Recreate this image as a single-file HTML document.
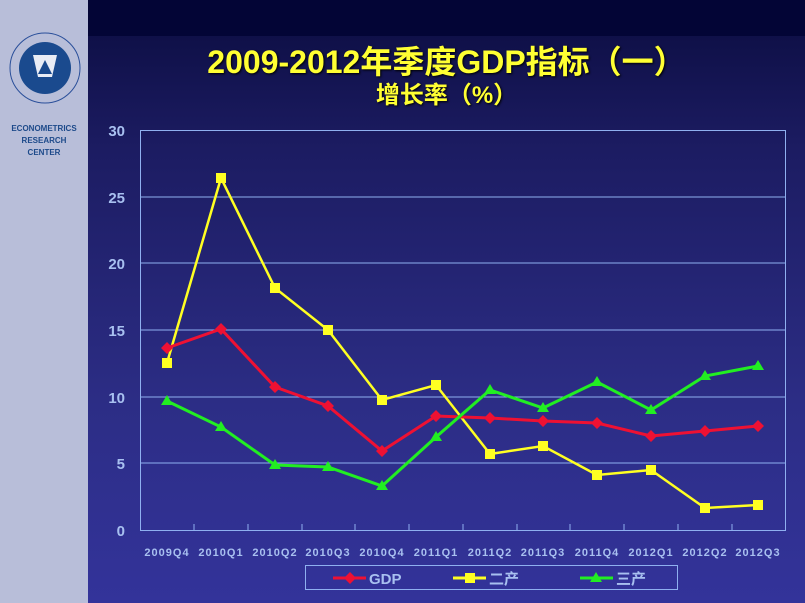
<!DOCTYPE html>
<html><head><meta charset="utf-8"><style>
html,body{margin:0;padding:0;width:805px;height:603px;overflow:hidden}
body{position:relative;background:linear-gradient(#0f1048 35px,#1c1c62 150px,#2c2d85 400px,#33339a 603px);font-family:"Liberation Sans","Noto Sans CJK SC",sans-serif}
#top{position:absolute;left:88px;top:0;width:717px;height:36px;background:#030536}
#side{position:absolute;left:0;top:0;width:88px;height:603px;background:#b8bed9}
.t{position:absolute;text-align:center;color:#ffff33;font-weight:bold;text-shadow:1px 1px 2px #000}
</style></head><body>
<div id="top"></div>
<div id="side">
<svg width="88" height="110" style="position:absolute;left:0;top:30px">
<circle cx="45" cy="38" r="35" fill="none" stroke="#2a4f9a" stroke-width="1"/>
<circle cx="45" cy="38" r="26" fill="#1a4a8e"/>
<path d="M33 25 h24 l-5 22 h-14z" fill="#e8ecf5"/>
<path d="M45 30 l-7 14 h14z" fill="#1a4a8e"/>
</svg>
<div style="position:absolute;left:0;width:88px;top:123px;text-align:center;font-size:8px;font-weight:bold;color:#1d4a8a;line-height:12px">ECONOMETRICS<br>RESEARCH<br>CENTER</div>
</div>
<div class="t" style="left:88px;width:717px;top:44px;font-size:32px;line-height:36px">2009-2012年季度GDP指标（一）</div>
<div class="t" style="left:88px;width:717px;top:82px;font-size:24px;line-height:28px">增长率（%）</div>
<svg width="805" height="603" style="position:absolute;left:0;top:0" font-family="Liberation Sans, Noto Sans CJK SC, sans-serif">
<g stroke="#8fb0f0" stroke-width="1" fill="none">
<rect x="140.5" y="130.5" width="645" height="400"/>
<line x1="140" y1="197" x2="785" y2="197"/><line x1="140" y1="263" x2="785" y2="263"/>
<line x1="140" y1="330" x2="785" y2="330"/><line x1="140" y1="397" x2="785" y2="397"/>
<line x1="140" y1="463" x2="785" y2="463"/>
<path d="M194 530v-6M248 530v-6M302 530v-6M355 530v-6M409 530v-6M463 530v-6M517 530v-6M570 530v-6M624 530v-6M678 530v-6M732 530v-6"/>
<rect x="305.5" y="565.5" width="372" height="24"/>
</g>
<g fill="#a8c0f0" font-weight="bold" font-size="15" text-anchor="end">
<text x="125" y="136">30</text><text x="125" y="203">25</text><text x="125" y="269">20</text>
<text x="125" y="336">15</text><text x="125" y="403">10</text><text x="125" y="469">5</text><text x="125" y="536">0</text>
</g>
<g fill="#a8c0f0" font-weight="bold" font-size="11" text-anchor="middle" letter-spacing="1">
<text x="167" y="556">2009Q4</text><text x="221" y="556">2010Q1</text><text x="275" y="556">2010Q2</text><text x="328" y="556">2010Q3</text><text x="382" y="556">2010Q4</text><text x="436" y="556">2011Q1</text><text x="490" y="556">2011Q2</text><text x="543" y="556">2011Q3</text><text x="597" y="556">2011Q4</text><text x="651" y="556">2012Q1</text><text x="705" y="556">2012Q2</text><text x="758" y="556">2012Q3</text>
</g>
<polyline fill="none" stroke="#ffff22" stroke-width="2.5" points="167,363 221,178 275,288 328,330 382,400 436,385 490,454 543,446 597,475 651,470 705,508 758,505"/>
<g fill="#ffff22"><rect x="162" y="358" width="10" height="10"/><rect x="216" y="173" width="10" height="10"/><rect x="270" y="283" width="10" height="10"/><rect x="323" y="325" width="10" height="10"/><rect x="377" y="395" width="10" height="10"/><rect x="431" y="380" width="10" height="10"/><rect x="485" y="449" width="10" height="10"/><rect x="538" y="441" width="10" height="10"/><rect x="592" y="470" width="10" height="10"/><rect x="646" y="465" width="10" height="10"/><rect x="700" y="503" width="10" height="10"/><rect x="753" y="500" width="10" height="10"/></g>
<polyline fill="none" stroke="#ee1133" stroke-width="3" points="167,348 221,329 275,387 328,406 382,451 436,416 490,418 543,421 597,423 651,436 705,431 758,426"/>
<g fill="#ee1133"><path d="M167 342l6 6-6 6-6-6zM221 323l6 6-6 6-6-6zM275 381l6 6-6 6-6-6zM328 400l6 6-6 6-6-6zM382 445l6 6-6 6-6-6zM436 410l6 6-6 6-6-6zM490 412l6 6-6 6-6-6zM543 415l6 6-6 6-6-6zM597 417l6 6-6 6-6-6zM651 430l6 6-6 6-6-6zM705 425l6 6-6 6-6-6zM758 420l6 6-6 6-6-6z"/></g>
<polyline fill="none" stroke="#22ee22" stroke-width="3" points="167,401 221,427 275,465 328,467 382,486 436,437 490,390 543,408 597,382 651,410 705,376 758,366"/>
<g fill="#22ee22"><path d="M167 395l6 10h-12zM221 421l6 10h-12zM275 459l6 10h-12zM328 461l6 10h-12zM382 480l6 10h-12zM436 431l6 10h-12zM490 384l6 10h-12zM543 402l6 10h-12zM597 376l6 10h-12zM651 404l6 10h-12zM705 370l6 10h-12zM758 360l6 10h-12z"/></g>
<line x1="333" y1="578" x2="366" y2="578" stroke="#ee1133" stroke-width="3"/><path d="M350 572l6 6-6 6-6-6z" fill="#ee1133"/>
<text x="369" y="584" fill="#a8c0f0" font-size="15" font-weight="bold">GDP</text>
<line x1="453" y1="578" x2="486" y2="578" stroke="#ffff22" stroke-width="3"/><rect x="465" y="573" width="10" height="10" fill="#ffff22"/>
<text x="489" y="584" fill="#a8c0f0" font-size="15" font-weight="bold">二产</text>
<line x1="580" y1="578" x2="613" y2="578" stroke="#22ee22" stroke-width="3"/><path d="M596 572l6 10h-12z" fill="#22ee22"/>
<text x="616" y="584" fill="#a8c0f0" font-size="15" font-weight="bold">三产</text>
</svg>
</body></html>
